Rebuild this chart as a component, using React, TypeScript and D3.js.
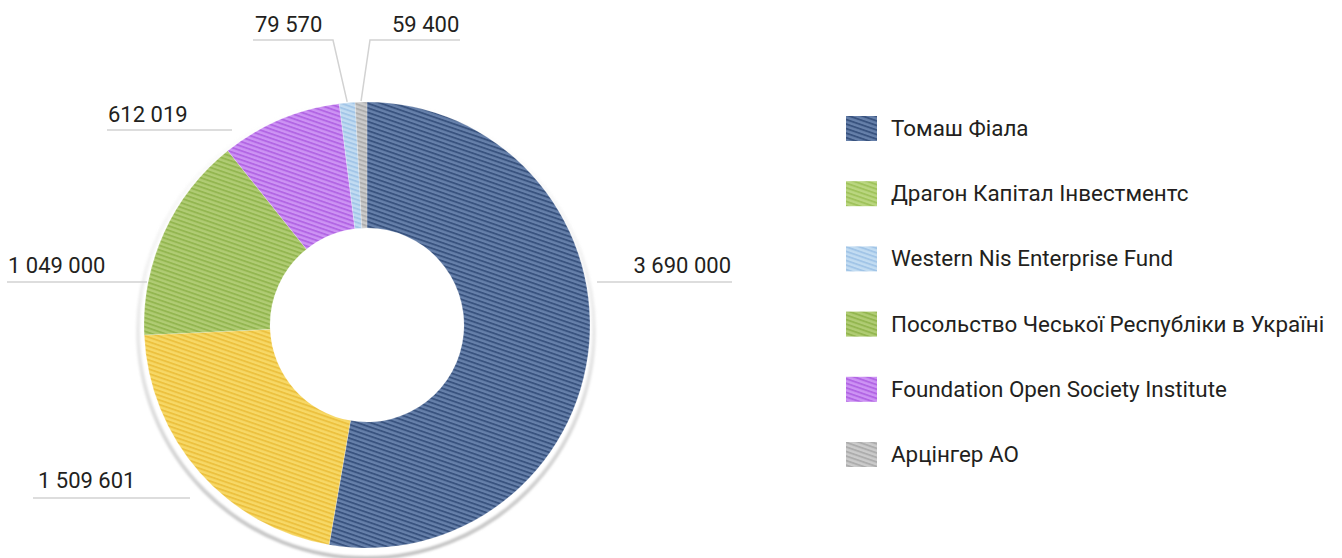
import React from "react";
import * as d3 from "d3";

const sliceValues = [3690000, 1509601, 1049000, 612019, 79570, 59400];
const sliceBase = ["#6680aa", "#f7d866", "#b0cc74", "#cd93f4", "#c2dcf2", "#cbcbcb"];
const sliceStripe = ["#39537f", "#ecc13f", "#93b650", "#b266e4", "#a2c5e7", "#adadad"];

const legendNames = [
  "Томаш Фіала",
  "Драгон Капітал Інвестментс",
  "Western Nis Enterprise Fund",
  "Посольство Чеської Республіки в Україні",
  "Foundation Open Society Institute",
  "Арцінгер АО",
];
const legendBase = ["#6680aa", "#bad680", "#c2dcf2", "#b0cc74", "#cd93f4", "#cbcbcb"];
const legendStripe = ["#39537f", "#a0c35c", "#a2c5e7", "#93b650", "#b266e4", "#adadad"];

// label layout (annotation positions)
type LabelLayout = { tx: number; ty: number; anchor: "start" | "end"; ly: number; x1: number; x2: number; elbowX?: number };
const labelLayout: LabelLayout[] = [
  { tx: 731, ty: 273, anchor: "end", ly: 282, x1: 597, x2: 732 },
  { tx: 38, ty: 488, anchor: "start", ly: 498, x1: 33, x2: 190 },
  { tx: 8, ty: 273, anchor: "start", ly: 282, x1: 7, x2: 147 },
  { tx: 108, ty: 122, anchor: "start", ly: 130, x1: 107, x2: 232 },
  { tx: 255, ty: 32, anchor: "start", ly: 40, x1: 253, x2: 333, elbowX: 333 },
  { tx: 392, ty: 32, anchor: "start", ly: 40, x1: 370, x2: 460, elbowX: 370 },
];

const W = 1342;
const H = 558;
const cx = 367;
const cy = 325;
const R = 223;
const r0 = 97;
const FONT = "Roboto, 'Open Sans', sans-serif";

const fmt = (v: number) => d3.format(",")(v).replace(/,/g, " ");

export default function App() {
  const pie = d3.pie<number>().sort(null).value((d) => d).startAngle(0).endAngle(2 * Math.PI);
  const arcs = pie(sliceValues);
  const arcGen = d3.arc<d3.PieArcDatum<number>>().innerRadius(r0).outerRadius(R);

  const patterns = (base: string[], stripe: string[], prefix: string) =>
    base.map((b, i) => (
      <pattern
        key={prefix + i}
        id={prefix + i}
        patternUnits="userSpaceOnUse"
        width={8}
        height={4.3}
        patternTransform="rotate(19)"
      >
        <rect width={8} height={4.3} fill={b} />
        <rect y={0} width={8} height={1.9} fill={stripe[i]} />
      </pattern>
    ));

  return (
    <svg
      width={W}
      height={H}
      style={{ position: "absolute", left: 0, top: 0, display: "block", background: "#fff" }}
    >
      <defs>
        {patterns(sliceBase, sliceStripe, "sp")}
        {patterns(legendBase, legendStripe, "lp")}
        <linearGradient id="shadowGrad" x1="0" y1="0" x2="0" y2="1">
          <stop offset="0" stopColor="#d0d0d0" stopOpacity={0} />
          <stop offset="0.35" stopColor="#d0d0d0" stopOpacity={0.25} />
          <stop offset="1" stopColor="#c4c4c4" stopOpacity={1} />
        </linearGradient>
        <filter id="blur1" x="-10%" y="-10%" width="120%" height="120%">
          <feGaussianBlur stdDeviation={0.8} />
        </filter>
      </defs>

      {/* shadow ring */}
      <circle
        cx={cx - 1}
        cy={cy + 5}
        r={R + 5}
        fill="none"
        stroke="url(#shadowGrad)"
        strokeWidth={4}
        filter="url(#blur1)"
      />

      <g transform={`translate(${cx},${cy})`}>
        {arcs.map((a, i) => (
          <path key={i} d={arcGen(a) || ""} fill={`url(#sp${i})`} stroke="#fff" strokeWidth={0.4} strokeOpacity={0.5} />
        ))}
      </g>

      {/* leader lines and labels */}
      {arcs.map((a, i) => {
        const L = labelLayout[i];
        const mid = (a.startAngle + a.endAngle) / 2;
        const px = cx + R * Math.sin(mid);
        const py = cy - R * Math.cos(mid);
        let d: string;
        if (L.elbowX !== undefined) {
          const far = L.elbowX === L.x1 ? L.x2 : L.x1;
          d = `M${far},${L.ly}L${L.elbowX},${L.ly}L${px},${py - 1}`;
        } else {
          d = `M${L.x1},${L.ly}L${L.x2},${L.ly}`;
        }
        return (
          <g key={"l" + i}>
            <path d={d} fill="none" stroke="#d2d2d2" strokeWidth={1.5} />
            <text
              x={L.tx}
              y={L.ty}
              textAnchor={L.anchor}
              fontFamily={FONT}
              fontSize={22}
              fill="#231f20"
            >
              {fmt(sliceValues[i])}
            </text>
          </g>
        );
      })}

      {/* legend */}
      {legendNames.map((n, i) => {
        const y = 116 + i * 65.2;
        return (
          <g key={"lg" + i}>
            <rect x={846} y={y} width={31} height={25} fill={`url(#lp${i})`} />
            <text x={891} y={y + 20} fontFamily={FONT} fontSize={22.4} fill="#231f20">
              {n}
            </text>
          </g>
        );
      })}
    </svg>
  );
}
